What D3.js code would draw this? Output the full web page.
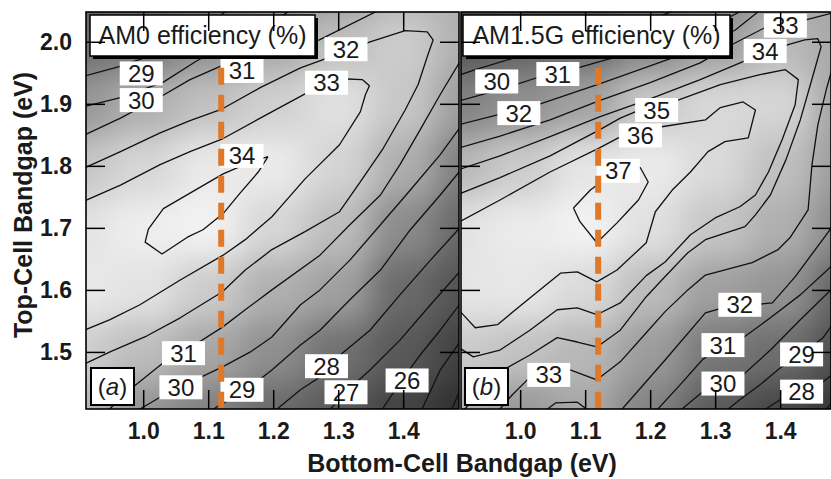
<!DOCTYPE html>
<html>
<head>
<meta charset="utf-8">
<script src="https://cdn.jsdelivr.net/npm/d3@7"></script>
<style>
  body { margin: 0; background: #fff; }
  svg text { font-family: "Liberation Sans", Arial, Helvetica, sans-serif; fill: #1a1a1a; }
  .tick line { stroke: #000; stroke-width: 1.5; }
  .tick text { font-size: 23px; font-weight: bold; }
</style>
</head>
<body>
<svg id="chart" width="831" height="479"></svg>
<script>
// shading grid: rows follow gridY, columns follow gridX
var gridX = [0.9, 1.0, 1.1, 1.2, 1.3, 1.4, 1.5];
var gridY = [2.1, 2.0, 1.9, 1.8, 1.7, 1.6, 1.5, 1.4];
var am0Grid = [
  [26.8, 27.2, 27.8, 28.6, 29.6, 30.9, 31.0],
  [28.2, 28.5, 29.6, 30.6, 31.7, 32.3, 31.0],
  [29.9, 30.9, 31.8, 32.5, 33.3, 32.1, 30.2],
  [32.0, 32.8, 33.7, 33.8, 32.7, 30.9, 28.9],
  [33.4, 33.9, 34.1, 32.8, 31.6, 29.4, 27.8],
  [33.7, 33.4, 32.3, 31.0, 30.3, 28.0, 26.1],
  [32.4, 31.6, 30.6, 29.6, 28.3, 26.6, 24.5],
  [31.3, 29.8, 29.0, 28.0, 26.6, 24.7, 23.0]
];
var am15Grid = [
  [26.5, 27.2, 27.8, 29.0, 30.2, 32.4, 32.8],
  [28.7, 29.5, 30.0, 31.2, 32.4, 33.9, 33.0],
  [31.1, 31.8, 32.7, 34.7, 35.6, 35.5, 32.7],
  [33.8, 34.9, 36.3, 36.6, 35.7, 34.3, 32.4],
  [36.1, 36.6, 37.0, 36.0, 34.6, 33.4, 31.6],
  [36.3, 36.4, 35.7, 34.1, 32.6, 32.0, 29.6],
  [34.9, 34.4, 33.8, 32.4, 30.6, 30.1, 28.3],
  [33.6, 32.2, 33.0, 31.1, 29.0, 27.6, 26.5]
];

// AM0 iso-efficiency lines [bottom gap, top gap]
var a29u = [[0.90,1.942],[0.963,1.960],[1.031,1.985],[1.08,2.01],[1.14,2.06]];
var a30u = [[0.90,1.893],[0.965,1.910],[1.031,1.935],[1.082,1.969],[1.122,1.992],[1.211,2.04],[1.24,2.06]];
var a31u = [[0.90,1.845],[0.965,1.877],[1.026,1.911],[1.072,1.939],[1.122,1.962],[1.195,1.980],[1.271,2.003],[1.38,2.06]];
var a31l = [[1.50,1.99],[1.457,1.915],[1.426,1.858],[1.395,1.802],[1.365,1.753],[1.318,1.705],[1.272,1.656],[1.198,1.600],[1.157,1.568],[1.122,1.540],[1.062,1.500],[1.029,1.481],[0.985,1.444],[0.94,1.40]];
var a32 = [[0.90,1.792],[0.965,1.823],[1.026,1.853],[1.072,1.873],[1.122,1.892],[1.180,1.926],[1.242,1.958],[1.318,1.987],[1.349,2.000],[1.403,2.018],[1.437,2.016],[1.446,2.003],[1.438,1.979],[1.423,1.931],[1.403,1.890],[1.368,1.826],[1.334,1.774],[1.302,1.726],[1.249,1.694],[1.198,1.665],[1.157,1.632],[1.122,1.597],[1.057,1.555],[1.006,1.526],[0.949,1.500],[0.90,1.476]];
var a33 = [[0.90,1.739],[0.965,1.769],[1.026,1.802],[1.072,1.823],[1.123,1.844],[1.180,1.877],[1.249,1.916],[1.314,1.940],[1.337,1.939],[1.348,1.929],[1.342,1.915],[1.334,1.887],[1.302,1.834],[1.249,1.779],[1.214,1.737],[1.198,1.718],[1.157,1.681],[1.123,1.656],[1.057,1.616],[0.995,1.576],[0.949,1.552],[0.90,1.531]];
var a34 = [[1.192,1.815],[1.177,1.790],[1.149,1.756],[1.123,1.723],[1.092,1.697],[1.068,1.685],[1.029,1.658],[1.003,1.677],[1.008,1.698],[1.031,1.731],[1.072,1.756],[1.123,1.787],[1.165,1.806],[1.192,1.815]];
var a30l = [[1.50,1.88],[1.457,1.818],[1.411,1.761],[1.365,1.705],[1.318,1.648],[1.272,1.600],[1.242,1.576],[1.198,1.524],[1.165,1.500],[1.122,1.476],[1.058,1.444],[1.026,1.427],[0.995,1.408],[0.98,1.40]];
var a29l = [[1.50,1.808],[1.457,1.753],[1.411,1.697],[1.365,1.632],[1.318,1.584],[1.272,1.535],[1.242,1.511],[1.198,1.471],[1.160,1.440],[1.126,1.419],[1.108,1.408],[1.10,1.40]];
var a28 = [[1.50,1.715],[1.442,1.648],[1.395,1.592],[1.349,1.535],[1.303,1.495],[1.280,1.465],[1.242,1.439],[1.206,1.408],[1.20,1.40]];
var a27 = [[1.50,1.645],[1.442,1.576],[1.395,1.519],[1.349,1.471],[1.318,1.442],[1.288,1.408],[1.28,1.40]];
var a26 = [[1.50,1.595],[1.457,1.535],[1.426,1.495],[1.398,1.455],[1.368,1.408],[1.36,1.40]];
var a25 = [[1.50,1.535],[1.457,1.471],[1.429,1.408],[1.425,1.40]];
var a24 = [[1.50,1.47],[1.475,1.408],[1.47,1.40]];
var am0Lines = [a29u, a30u, a31u, a31l, a32, a33, a34, a30l, a29l, a28, a27, a26, a25, a24];

// AM1.5G iso-efficiency lines
var b30u = [[0.90,1.944],[0.931,1.955],[0.997,1.976],[1.062,1.994],[1.122,2.010],[1.200,2.035],[1.26,2.06]];
var b31u = [[0.90,1.903],[0.969,1.923],[1.026,1.942],[1.089,1.958],[1.122,1.968],[1.200,1.990],[1.277,2.016],[1.36,2.06]];
var b32u = [[0.90,1.865],[0.965,1.882],[1.031,1.900],[1.122,1.932],[1.200,1.961],[1.277,1.990],[1.331,2.019],[1.38,2.06]];
var b33u = [[0.90,1.827],[0.969,1.848],[1.046,1.874],[1.122,1.905],[1.200,1.934],[1.277,1.966],[1.323,1.994],[1.377,2.023],[1.438,2.035],[1.486,2.048],[1.50,2.052]];
var b33l = [[1.50,2.003],[1.486,1.979],[1.471,1.923],[1.458,1.866],[1.449,1.802],[1.443,1.729],[1.415,1.684],[1.397,1.665],[1.357,1.644],[1.285,1.624],[1.258,1.600],[1.223,1.565],[1.194,1.531],[1.154,1.484],[1.118,1.455],[1.077,1.471],[1.043,1.463],[1.011,1.455],[0.988,1.431],[0.969,1.408],[0.962,1.40]];
var b33d = [[1.038,1.40],[1.042,1.408],[1.055,1.418],[1.088,1.419],[1.102,1.408],[1.106,1.40]];
var b34 = [[0.90,1.792],[0.969,1.816],[1.046,1.847],[1.122,1.879],[1.200,1.908],[1.277,1.939],[1.343,1.968],[1.411,1.995],[1.438,2.003],[1.458,2.005],[1.463,1.992],[1.449,1.940],[1.431,1.874],[1.409,1.810],[1.385,1.753],[1.362,1.721],[1.346,1.702],[1.285,1.681],[1.258,1.660],[1.218,1.616],[1.194,1.589],[1.154,1.535],[1.118,1.508],[1.088,1.516],[1.057,1.523],[1.015,1.495],[0.974,1.471],[0.938,1.435],[0.915,1.408],[0.908,1.40]];
var b35 = [[0.90,1.752],[0.969,1.781],[1.046,1.816],[1.122,1.858],[1.154,1.877],[1.177,1.887],[1.243,1.906],[1.308,1.931],[1.369,1.947],[1.408,1.955],[1.428,1.939],[1.423,1.898],[1.403,1.842],[1.382,1.790],[1.362,1.753],[1.338,1.734],[1.300,1.716],[1.262,1.689],[1.223,1.645],[1.194,1.623],[1.154,1.579],[1.118,1.560],[1.088,1.571],[1.057,1.568],[1.015,1.535],[0.969,1.503],[0.928,1.492],[0.90,1.511]];
var b36 = [[0.90,1.706],[0.969,1.745],[1.046,1.790],[1.122,1.829],[1.151,1.845],[1.185,1.856],[1.218,1.863],[1.285,1.874],[1.308,1.894],[1.343,1.903],[1.362,1.890],[1.351,1.845],[1.315,1.839],[1.289,1.823],[1.262,1.790],[1.234,1.761],[1.208,1.726],[1.194,1.676],[1.149,1.632],[1.118,1.613],[1.088,1.629],[1.062,1.627],[1.015,1.587],[0.965,1.544],[0.931,1.539],[0.90,1.574]];
var b37 = [[1.082,1.732],[1.108,1.761],[1.146,1.790],[1.185,1.797],[1.197,1.774],[1.182,1.745],[1.165,1.726],[1.149,1.708],[1.118,1.676],[1.092,1.710],[1.082,1.732]];
var b32l = [[1.50,1.728],[1.486,1.710],[1.454,1.665],[1.423,1.621],[1.388,1.579],[1.338,1.574],[1.305,1.569],[1.285,1.563],[1.223,1.487],[1.192,1.450],[1.157,1.408],[1.15,1.40]];
var b31l = [[1.50,1.661],[1.486,1.645],[1.431,1.592],[1.385,1.555],[1.343,1.523],[1.311,1.511],[1.280,1.487],[1.246,1.447],[1.212,1.408],[1.205,1.40]];
var b30l = [[1.50,1.624],[1.486,1.608],[1.431,1.552],[1.385,1.503],[1.343,1.463],[1.311,1.450],[1.280,1.435],[1.249,1.408],[1.24,1.40]];
var b29 = [[1.50,1.568],[1.486,1.552],[1.466,1.523],[1.431,1.495],[1.400,1.474],[1.369,1.447],[1.338,1.423],[1.320,1.408],[1.315,1.40]];
var b28 = [[1.50,1.479],[1.486,1.468],[1.466,1.452],[1.431,1.435],[1.400,1.423],[1.378,1.408],[1.37,1.40]];
var b27 = [[1.50,1.435],[1.486,1.426],[1.471,1.408],[1.465,1.40]];
var am15Lines = [b30u, b31u, b32u, b33u, b33l, b33d, b34, b35, b36, b37, b32l, b31l, b30l, b29, b28, b27];

// contour labels: [text, bottom gap, top gap]
var am0Labels = [['29',0.997,1.949],['30',0.997,1.906],['31',1.152,1.953],['32',1.312,1.988],
  ['33',1.282,1.934],['34',1.152,1.816],['31',1.062,1.498],['30',1.058,1.443],
  ['29',1.152,1.439],['28',1.282,1.477],['27',1.312,1.435],['26',1.406,1.454]];
var am15Labels = [['30',0.964,1.936],['31',1.058,1.948],['32',0.998,1.885],['33',1.408,2.026],
  ['34',1.377,1.985],['35',1.210,1.890],['36',1.185,1.849],['37',1.151,1.792],
  ['33',1.044,1.463],['32',1.338,1.576],['31',1.312,1.511],['30',1.312,1.449],
  ['29',1.433,1.496],['28',1.433,1.436]];

var xTicks = [1.0, 1.1, 1.2, 1.3, 1.4];
var yTicks = [1.5, 1.6, 1.7, 1.8, 1.9, 2.0];
var siGap = 1.12;

var pxPerUnit = 650;
var svg = d3.select('#chart');
var defs = svg.append('defs');
defs.append('filter').attr('id', 'soft')
    .attr('color-interpolation-filters', 'sRGB')
  .append('feGaussianBlur').attr('stdDeviation', 16);

var y = d3.scaleLinear().domain([1.408, 2.048]).range([409, 12]);

var panels = [
  {key: 'a', left: 86, right: 459, x0: 0.912, grid: am0Grid, lines: am0Lines, labels: am0Labels,
   title: 'AM0 efficiency (%)', tbox: [90, 15, 225, 41], tag: 'a', tagBox: [91, 368, 43, 37],
   shade: d3.scaleLinear().domain([23, 28, 31, 34.3]).range(['#2e2e2e', '#6a6a6a', '#b0b0b0', '#f6f6f6']).clamp(true)},
  {key: 'b', left: 461, right: 831, x0: 0.909, grid: am15Grid, lines: am15Lines, labels: am15Labels,
   title: 'AM1.5G efficiency (%)', tbox: [463, 15, 267, 41], tag: 'b', tagBox: [465, 368, 43, 37],
   shade: d3.scaleLinear().domain([26, 29.5, 33, 37.2]).range(['#2e2e2e', '#626262', '#a8a8a8', '#f6f6f6']).clamp(true)}
];

panels.forEach(function(p) {
  var x = d3.scaleLinear()
      .domain([p.x0, p.x0 + (p.right - p.left) / pxPerUnit])
      .range([p.left, p.right]);

  defs.append('clipPath').attr('id', 'clip-' + p.key)
    .append('rect')
      .attr('x', p.left).attr('y', y(2.048))
      .attr('width', p.right - p.left).attr('height', y(1.408) - y(2.048));

  var cells = [];
  gridY.forEach(function(gy, r) {
    gridX.forEach(function(gx, c) { cells.push({gx: gx, gy: gy, v: p.grid[r][c]}); });
  });

  svg.append('g').attr('clip-path', 'url(#clip-' + p.key + ')')
    .append('g').attr('filter', 'url(#soft)')
    .selectAll('rect').data(cells).join('rect')
      .attr('x', d => x(d.gx - 0.05))
      .attr('y', d => y(d.gy + 0.05))
      .attr('width', d => x(d.gx + 0.05) - x(d.gx - 0.05) + 0.5)
      .attr('height', d => y(d.gy - 0.05) - y(d.gy + 0.05) + 0.5)
      .attr('fill', d => p.shade(d.v));

  var line = d3.line().x(d => x(d[0])).y(d => y(d[1]));
  svg.append('g').attr('clip-path', 'url(#clip-' + p.key + ')')
    .selectAll('path').data(p.lines).join('path')
      .attr('d', line)
      .attr('fill', 'none')
      .attr('stroke', '#111')
      .attr('stroke-width', 1.3)
      .attr('stroke-linejoin', 'round');

  var labs = svg.append('g').selectAll('g').data(p.labels).join('g')
      .attr('transform', d => 'translate(' + x(d[1]) + ',' + y(d[2]) + ')');
  labs.append('rect')
      .attr('x', -21.5).attr('y', -12).attr('width', 43).attr('height', 24)
      .attr('fill', '#fff');
  labs.append('text')
      .attr('text-anchor', 'middle').attr('dy', 8.5)
      .style('font-size', '24px')
      .text(d => d[0]);

  // bottom-cell gap of silicon
  svg.append('line')
      .attr('x1', x(siGap)).attr('x2', x(siGap))
      .attr('y1', y(1.958)).attr('y2', y(1.408))
      .attr('stroke', '#e0782a').attr('stroke-width', 6)
      .attr('stroke-dasharray', '17 10');

  var tb = p.tbox;
  svg.append('rect').attr('x', tb[0] + 3).attr('y', tb[1] + 3)
      .attr('width', tb[2]).attr('height', tb[3]).attr('fill', '#000');
  svg.append('rect').attr('x', tb[0]).attr('y', tb[1])
      .attr('width', tb[2]).attr('height', tb[3])
      .attr('fill', '#fff').attr('stroke', '#000').attr('stroke-width', 1.5);
  svg.append('text').attr('x', tb[0] + tb[2] / 2).attr('y', tb[1] + 29)
      .attr('text-anchor', 'middle')
      .style('font-size', '25px')
      .text(p.title);

  var gb = p.tagBox;
  svg.append('rect').attr('x', gb[0]).attr('y', gb[1])
      .attr('width', gb[2]).attr('height', gb[3])
      .attr('fill', '#fff').attr('stroke', '#000').attr('stroke-width', 2);
  var tag = svg.append('text').attr('x', gb[0] + gb[2] / 2).attr('y', gb[1] + 27)
      .attr('text-anchor', 'middle').style('font-size', '24px');
  tag.append('tspan').text('(');
  tag.append('tspan').style('font-style', 'italic').text(p.tag);
  tag.append('tspan').text(')');

  // axes, ticks pointing inward
  var bottom = svg.append('g').attr('transform', 'translate(0,' + y(1.408) + ')')
      .call(d3.axisBottom(x).tickValues(xTicks).tickFormat(d3.format('.1f'))
            .tickSizeInner(-19).tickSizeOuter(0).tickPadding(14));
  bottom.select('.domain').remove();

  var top = svg.append('g').attr('transform', 'translate(0,' + y(2.048) + ')')
      .call(d3.axisTop(x).tickValues(xTicks).tickFormat(() => '')
            .tickSizeInner(-19).tickSizeOuter(0));
  top.select('.domain').remove();

  var left = svg.append('g').attr('transform', 'translate(' + p.left + ',0)')
      .call(d3.axisLeft(y).tickValues(yTicks)
            .tickFormat(p.key === 'a' ? d3.format('.1f') : () => '')
            .tickSizeInner(-19).tickSizeOuter(0).tickPadding(14));
  left.select('.domain').remove();

  var right = svg.append('g').attr('transform', 'translate(' + p.right + ',0)')
      .call(d3.axisRight(y).tickValues(yTicks).tickFormat(() => '')
            .tickSizeInner(-19).tickSizeOuter(0));
  right.select('.domain').remove();

  svg.append('rect')
      .attr('x', p.left).attr('y', y(2.048))
      .attr('width', p.right - p.left).attr('height', y(1.408) - y(2.048))
      .attr('fill', 'none').attr('stroke', '#000').attr('stroke-width', 1.6);
});

svg.append('text')
    .attr('transform', 'translate(32,205) rotate(-90)')
    .attr('text-anchor', 'middle')
    .style('font-size', '25px').style('font-weight', 'bold')
    .text('Top-Cell Bandgap (eV)');

svg.append('text')
    .attr('x', 462).attr('y', 472)
    .attr('text-anchor', 'middle')
    .style('font-size', '25px').style('font-weight', 'bold')
    .text('Bottom-Cell Bandgap (eV)');
</script>
</body>
</html>
